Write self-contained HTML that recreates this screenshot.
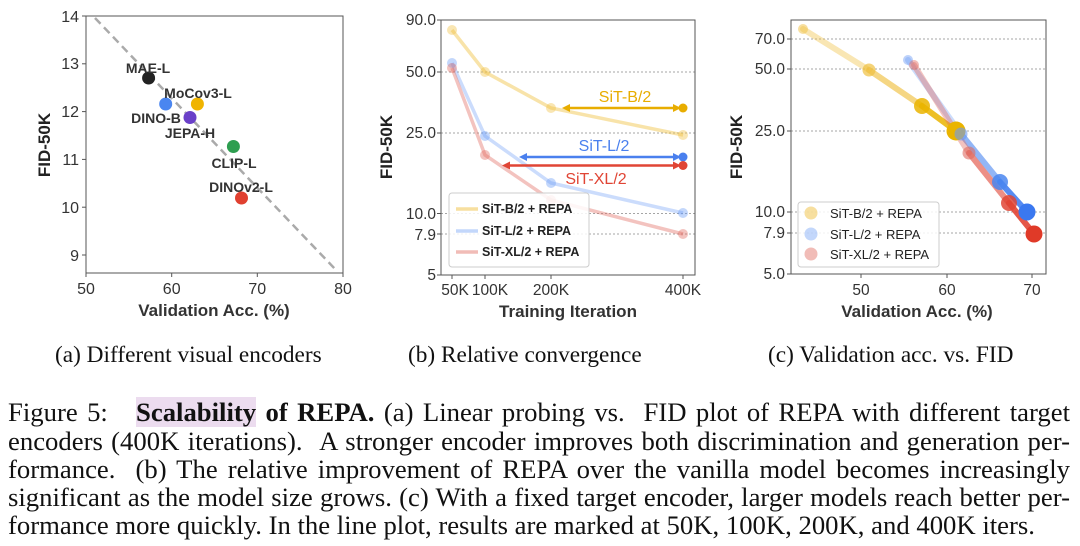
<!DOCTYPE html>
<html><head><meta charset="utf-8"><style>
body{margin:0;background:#fff;width:1080px;height:546px;overflow:hidden;position:relative}
svg{position:absolute;left:0;top:0}
.t{font-family:"Liberation Sans",sans-serif}
.cap{position:absolute;font-family:"Liberation Serif",serif;font-size:23.3px;color:#111;line-height:28px}
.ln{position:absolute;left:8px;width:1062px;font-family:"Liberation Serif",serif;font-size:26.7px;color:#111;text-align:justify;text-align-last:justify;white-space:nowrap;line-height:28.3px}
</style></head><body>
<svg width="1080" height="546" viewBox="0 0 1080 546">
<defs>
<marker id="ay" markerWidth="8" markerHeight="8" refX="4" refY="4" orient="auto-start-reverse" markerUnits="userSpaceOnUse"><path d="M0,0 L8,4 L0,8z" fill="#e8ad00"/></marker>
<marker id="ab" markerWidth="8" markerHeight="8" refX="4" refY="4" orient="auto-start-reverse" markerUnits="userSpaceOnUse"><path d="M0,0 L8,4 L0,8z" fill="#4a80ee"/></marker>
<marker id="ar" markerWidth="8" markerHeight="8" refX="4" refY="4" orient="auto-start-reverse" markerUnits="userSpaceOnUse"><path d="M0,0 L8,4 L0,8z" fill="#e04535"/></marker>
</defs>
<!-- Chart A -->
<g class="t">
<line x1="95" y1="18" x2="336" y2="270" stroke="#aaa" stroke-width="2.5" stroke-dasharray="8,5"/>
<rect x="86" y="16" width="257" height="257" fill="none" stroke="#555" stroke-width="1"/>
<g stroke="#555"><line x1="82" y1="16" x2="86" y2="16"/><line x1="82" y1="63.8" x2="86" y2="63.8"/><line x1="82" y1="111.6" x2="86" y2="111.6"/><line x1="82" y1="159.4" x2="86" y2="159.4"/><line x1="82" y1="207.2" x2="86" y2="207.2"/><line x1="82" y1="255" x2="86" y2="255"/>
<line x1="86" y1="273" x2="86" y2="277"/><line x1="171.7" y1="273" x2="171.7" y2="277"/><line x1="257.3" y1="273" x2="257.3" y2="277"/><line x1="343" y1="273" x2="343" y2="277"/></g>
<g font-size="16" fill="#333" text-anchor="end"><text x="79" y="22">14</text><text x="79" y="69">13</text><text x="79" y="117">12</text><text x="79" y="165">11</text><text x="79" y="213">10</text><text x="79" y="261">9</text></g>
<g font-size="16" fill="#333" text-anchor="middle"><text x="86" y="294">50</text><text x="171.7" y="294">60</text><text x="257.3" y="294">70</text><text x="343" y="294">80</text></g>
<text x="214" y="316" font-size="17" font-weight="bold" fill="#333" text-anchor="middle">Validation Acc. (%)</text>
<text transform="translate(50,145) rotate(-90)" font-size="17" font-weight="bold" fill="#222" text-anchor="middle">FID-50K</text>
<circle cx="148.6" cy="78" r="6.5" fill="#222"/>
<circle cx="165.7" cy="104" r="6.5" fill="#4a86f0"/>
<circle cx="197.4" cy="104" r="6.5" fill="#f0b400"/>
<circle cx="190" cy="117.5" r="6.5" fill="#6a40c8"/>
<circle cx="233.4" cy="146.5" r="6.5" fill="#2e9e50"/>
<circle cx="241.5" cy="198" r="6.5" fill="#e04030"/>
<g font-size="14" font-weight="bold" fill="#333" text-anchor="middle">
<text x="148" y="73">MAE-L</text><text x="198" y="98">MoCov3-L</text><text x="156" y="123">DINO-B</text><text x="190" y="138">JEPA-H</text><text x="234" y="168">CLIP-L</text><text x="241" y="192">DINOv2-L</text></g>
</g>
<!-- Chart B -->
<g class="t">
<g stroke="#888" stroke-width="0.8" stroke-dasharray="2,2"><line x1="441" y1="72" x2="695" y2="72"/><line x1="441" y1="133" x2="695" y2="133"/><line x1="441" y1="213.5" x2="695" y2="213.5"/><line x1="441" y1="234" x2="695" y2="234"/></g>
<polyline points="452,30 485,72 551,108 683,135" fill="none" stroke="#f0c040" stroke-opacity="0.45" stroke-width="3.5"/>
<polyline points="452,63 485,136 551,183 683,213" fill="none" stroke="#6a9af5" stroke-opacity="0.35" stroke-width="3.5"/>
<polyline points="452,68 485,155 551,200 683,234" fill="none" stroke="#e06a60" stroke-opacity="0.4" stroke-width="3.5"/>
<g fill-opacity="0.4"><circle cx="452" cy="30" r="5" fill="#f0c040"/><circle cx="485" cy="72" r="5" fill="#f0c040"/><circle cx="551" cy="108" r="5" fill="#f0c040"/><circle cx="683" cy="135" r="5" fill="#f0c040"/>
<circle cx="452" cy="63" r="5" fill="#6a9af5"/><circle cx="485" cy="136" r="5" fill="#6a9af5"/><circle cx="551" cy="183" r="5" fill="#6a9af5"/><circle cx="683" cy="213" r="5" fill="#6a9af5"/>
<circle cx="452" cy="68" r="5" fill="#e06a60"/><circle cx="485" cy="155" r="5" fill="#e06a60"/><circle cx="551" cy="200" r="5" fill="#e06a60"/><circle cx="683" cy="234" r="5" fill="#e06a60"/></g>
<line x1="566" y1="108" x2="677" y2="108" stroke="#e8ad00" stroke-width="2.5" marker-start="url(#ay)" marker-end="url(#ay)"/><circle cx="683" cy="108" r="4.5" fill="#e8ad00"/>
<line x1="523" y1="157" x2="677" y2="157" stroke="#4a80ee" stroke-width="2.5" marker-start="url(#ab)" marker-end="url(#ab)"/><circle cx="683" cy="157" r="4.5" fill="#4a80ee"/>
<line x1="506" y1="165.5" x2="677" y2="165.5" stroke="#e04535" stroke-width="2.5" marker-start="url(#ar)" marker-end="url(#ar)"/><circle cx="683" cy="165.5" r="4.5" fill="#e04535"/>
<g font-size="16" text-anchor="middle"><text x="625" y="102" fill="#e8ad00">SiT-B/2</text><text x="604" y="151" fill="#4a80ee">SiT-L/2</text><text x="596" y="184" fill="#e04535">SiT-XL/2</text></g>
<rect x="441" y="20" width="254" height="255" fill="none" stroke="#555"/>
<g stroke="#555"><line x1="437" y1="20" x2="441" y2="20"/><line x1="437" y1="72" x2="441" y2="72"/><line x1="437" y1="133" x2="441" y2="133"/><line x1="437" y1="213.5" x2="441" y2="213.5"/><line x1="437" y1="234" x2="441" y2="234"/><line x1="437" y1="275" x2="441" y2="275"/>
<line x1="452" y1="275" x2="452" y2="279"/><line x1="485" y1="275" x2="485" y2="279"/><line x1="551" y1="275" x2="551" y2="279"/><line x1="683" y1="275" x2="683" y2="279"/></g>
<g font-size="15.5" fill="#333" text-anchor="end"><text x="436" y="25">90.0</text><text x="436" y="77">50.0</text><text x="436" y="138">25.0</text><text x="436" y="219">10.0</text><text x="436" y="240">7.9</text><text x="436" y="280">5</text></g>
<g font-size="15.5" fill="#333" text-anchor="middle"><text x="455" y="295">50K</text><text x="490" y="295">100K</text><text x="551" y="295">200K</text><text x="683" y="295">400K</text></g>
<text x="568" y="317" font-size="17" font-weight="bold" fill="#333" text-anchor="middle">Training Iteration</text>
<text transform="translate(392,147) rotate(-90)" font-size="17" font-weight="bold" fill="#222" text-anchor="middle">FID-50K</text>
<rect x="449" y="193" width="140" height="74" rx="3" fill="#fff" fill-opacity="0.85" stroke="#ccc"/>
<g stroke-width="3.5"><line x1="456" y1="209" x2="478" y2="209" stroke="#f0c040" stroke-opacity="0.5"/><line x1="456" y1="231" x2="478" y2="231" stroke="#6a9af5" stroke-opacity="0.4"/><line x1="456" y1="252" x2="478" y2="252" stroke="#e06a60" stroke-opacity="0.45"/></g>
<g font-size="12.5" font-weight="bold" fill="#222"><text x="482" y="213">SiT-B/2 + REPA</text><text x="482" y="235">SiT-L/2 + REPA</text><text x="482" y="256">SiT-XL/2 + REPA</text></g>
</g>
<!-- Chart C -->
<g class="t">
<g stroke="#888" stroke-width="0.8" stroke-dasharray="2,2"><line x1="791" y1="39" x2="1046" y2="39"/><line x1="791" y1="69" x2="1046" y2="69"/><line x1="791" y1="131" x2="1046" y2="131"/><line x1="791" y1="212" x2="1046" y2="212"/><line x1="791" y1="233" x2="1046" y2="233"/></g>
<g stroke-width="6" stroke-linecap="round">
<line x1="803" y1="29" x2="869" y2="70" stroke="#f0c040" stroke-opacity="0.4"/>
<line x1="869" y1="70" x2="922" y2="106" stroke="#f0c040" stroke-opacity="0.65"/>
<line x1="922" y1="106" x2="956" y2="131" stroke="#eab400" stroke-opacity="0.85"/>
<line x1="908" y1="60" x2="961" y2="134" stroke="#6a9af5" stroke-opacity="0.35"/>
<line x1="961" y1="134" x2="1000" y2="182" stroke="#4a86f0" stroke-opacity="0.6"/>
<line x1="1000" y1="182" x2="1027" y2="212" stroke="#3a78f0" stroke-opacity="0.85"/>
<line x1="914" y1="65" x2="969" y2="153" stroke="#e06a60" stroke-opacity="0.4"/>
<line x1="969" y1="153" x2="1009" y2="203" stroke="#e04535" stroke-opacity="0.6"/>
<line x1="1009" y1="203" x2="1034" y2="234" stroke="#e03a28" stroke-opacity="0.85"/>
</g>
<circle cx="803" cy="29" r="5" fill="#f0c040" fill-opacity="0.5"/><circle cx="869" cy="70" r="6.5" fill="#f0c040" fill-opacity="0.7"/><circle cx="922" cy="106" r="8" fill="#eab400" fill-opacity="0.85"/><circle cx="956" cy="131" r="9.5" fill="#eab400"/>
<circle cx="908" cy="60" r="5" fill="#6a9af5" fill-opacity="0.45"/><circle cx="961" cy="134" r="6.5" fill="#6a9af5" fill-opacity="0.6"/><circle cx="1000" cy="182" r="8" fill="#4a86f0" fill-opacity="0.85"/><circle cx="1027" cy="212" r="8.5" fill="#3a78f0"/>
<circle cx="914" cy="65" r="5" fill="#e06a60" fill-opacity="0.45"/><circle cx="969" cy="153" r="6.5" fill="#e06a60" fill-opacity="0.6"/><circle cx="1009" cy="203" r="8" fill="#e04535" fill-opacity="0.85"/><circle cx="1034" cy="234" r="8.5" fill="#e03a28"/>
<rect x="791" y="20" width="255" height="254" fill="none" stroke="#555"/>
<g stroke="#555"><line x1="787" y1="39" x2="791" y2="39"/><line x1="787" y1="69" x2="791" y2="69"/><line x1="787" y1="131" x2="791" y2="131"/><line x1="787" y1="212" x2="791" y2="212"/><line x1="787" y1="233" x2="791" y2="233"/><line x1="787" y1="274" x2="791" y2="274"/>
<line x1="861" y1="274" x2="861" y2="278"/><line x1="947" y1="274" x2="947" y2="278"/><line x1="1032" y1="274" x2="1032" y2="278"/></g>
<g font-size="15.5" fill="#333" text-anchor="end"><text x="785" y="44">70.0</text><text x="785" y="74">50.0</text><text x="785" y="136">25.0</text><text x="785" y="217">10.0</text><text x="785" y="238">7.9</text><text x="785" y="279">5.0</text></g>
<g font-size="15.5" fill="#333" text-anchor="middle"><text x="861" y="295">50</text><text x="947" y="295">60</text><text x="1032" y="295">70</text></g>
<text x="917" y="317" font-size="17" font-weight="bold" fill="#333" text-anchor="middle">Validation Acc. (%)</text>
<text transform="translate(742,147) rotate(-90)" font-size="17" font-weight="bold" fill="#222" text-anchor="middle">FID-50K</text>
<rect x="798" y="202" width="141" height="65" rx="3" fill="#fff" fill-opacity="0.85" stroke="#ccc"/>
<circle cx="811" cy="213" r="6.5" fill="#f0c040" fill-opacity="0.5"/><circle cx="811" cy="234" r="6.5" fill="#6a9af5" fill-opacity="0.4"/><circle cx="811" cy="254" r="6.5" fill="#e06a60" fill-opacity="0.45"/>
<g font-size="13" fill="#222"><text x="830" y="218">SiT-B/2 + REPA</text><text x="830" y="239">SiT-L/2 + REPA</text><text x="830" y="259">SiT-XL/2 + REPA</text></g>
</g>
</svg>
<div class="cap" style="left:55px;top:341px">(a) Different visual encoders</div>
<div class="cap" style="left:408px;top:341px">(b) Relative convergence</div>
<div class="cap" style="left:768px;top:341px">(c) Validation acc. vs. FID</div>
<div class="ln" style="top:398px">Figure 5: &nbsp;&nbsp;<b><span style="background:#ecdcef">Scalability</span> of REPA.</b> (a) Linear probing vs. &nbsp;FID plot of REPA with different target</div>
<div class="ln" style="top:427px">encoders (400K iterations). &nbsp;A stronger encoder improves both discrimination and generation per-</div>
<div class="ln" style="top:455px">formance. &nbsp;(b) The relative improvement of REPA over the vanilla model becomes increasingly</div>
<div class="ln" style="top:483px">significant as the model size grows. (c) With a fixed target encoder, larger models reach better per-</div>
<div class="ln" style="top:511px;text-align-last:left">formance more quickly. In the line plot, results are marked at 50K, 100K, 200K, and 400K iters.</div>
</body></html>
